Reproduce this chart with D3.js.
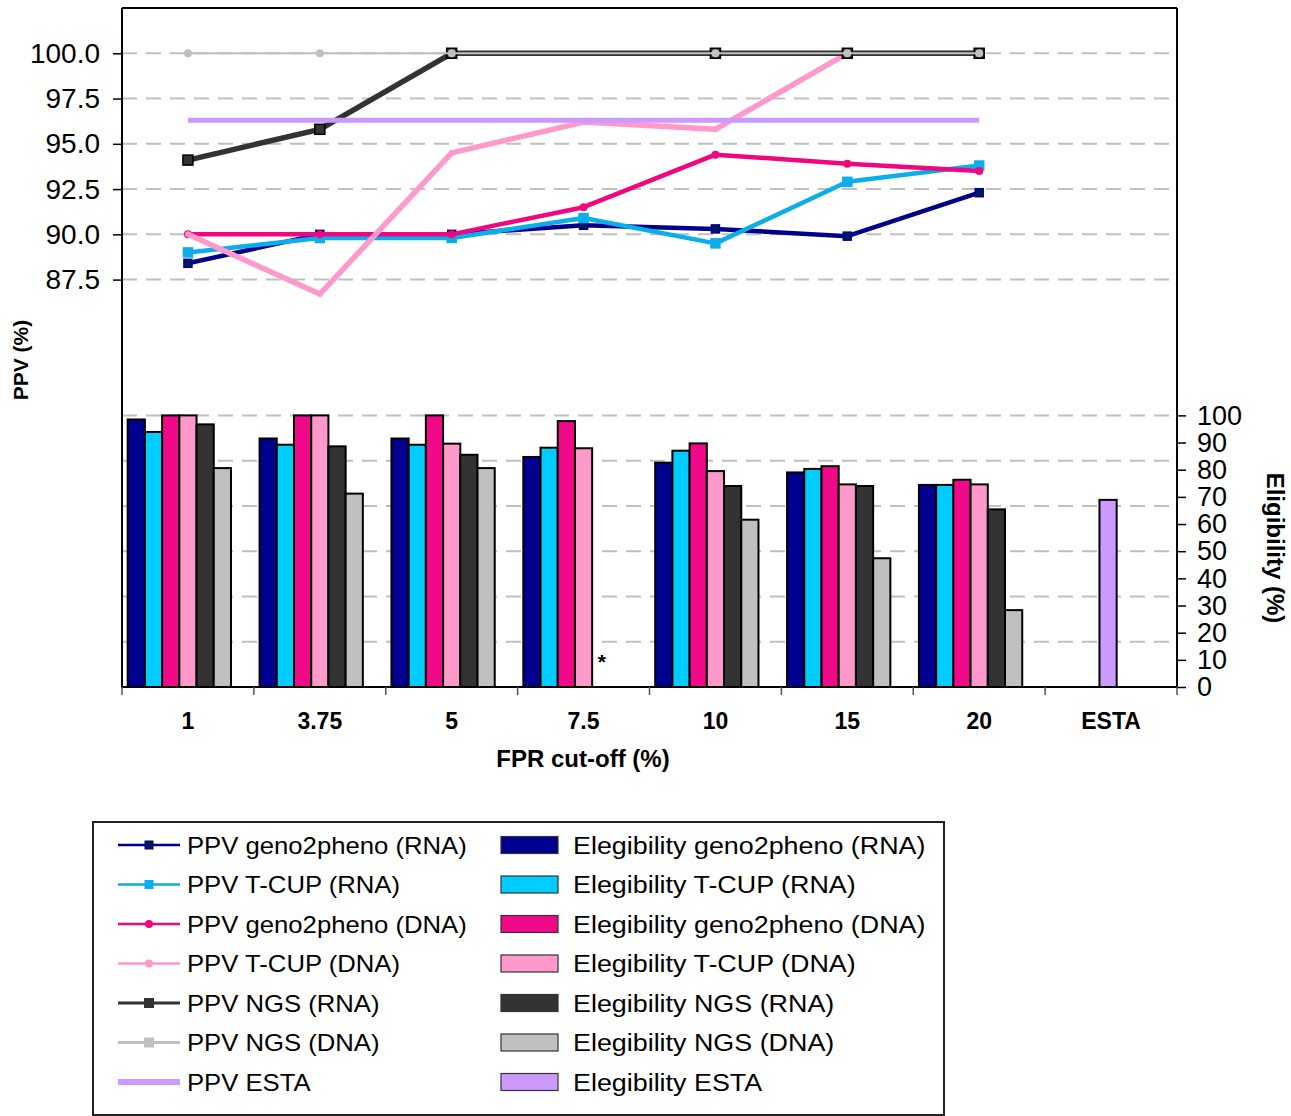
<!DOCTYPE html>
<html>
<head>
<meta charset="utf-8">
<script src="https://cdn.jsdelivr.net/npm/d3@7"></script>
<style>
  html, body { margin: 0; padding: 0; background: #fff; }
  svg { display: block; font-family: "Liberation Sans", Arial, sans-serif; }
</style>
</head>
<body>
<svg id="chart" width="1291" height="1116"></svg>
<script>
// ---------------- data ----------------
const categories = ["1", "3.75", "5", "7.5", "10", "15", "20", "ESTA"];
const fprCategories = ["1", "3.75", "5", "7.5", "10", "15", "20"];

const leftTicks = [87.5, 90.0, 92.5, 95.0, 97.5, 100.0];
const gridValues = [67.5, 70, 72.5, 75, 77.5, 80, 87.5, 90, 92.5, 95, 97.5, 100];
const rightTicks = [0, 10, 20, 30, 40, 50, 60, 70, 80, 90, 100];

// PPV (%) lines, one value per FPR cut-off
const ppvG2pRNA  = [88.4, 90.0, 90.0, 90.5, 90.3, 89.9, 92.3];
const ppvTcupRNA = [89.0, 89.8, 89.8, 90.9, 89.5, 92.9, 93.8];
const ppvG2pDNA  = [90.0, 90.0, 90.0, 91.5, 94.4, 93.9, 93.5];
const ppvTcupDNA = [90.0, 86.7, 94.5, 96.2, 95.8, 100.0, 100.0];
const ppvNgsRNA  = [94.1, 95.8, 100.0, null, 100.0, 100.0, 100.0];
const ppvNgsDNA  = [100.0, 100.0, 100.0, null, 100.0, 100.0, 100.0];
const ppvEsta    = [96.3, 96.3, 96.3, 96.3, 96.3, 96.3, 96.3];

// Eligibility (%) bars, one value per FPR cut-off
const eligG2pRNA  = [98.5, 91.5, 91.5, 84.7, 82.6, 79.0, 74.4];
const eligTcupRNA = [93.9, 89.2, 89.2, 88.1, 87.0, 80.3, 74.4];
const eligG2pDNA  = [100, 100, 100, 97.9, 89.7, 81.3, 76.3];
const eligTcupDNA = [100, 100, 89.6, 87.9, 79.5, 74.6, 74.6];
const eligNgsRNA  = [96.7, 88.6, 85.5, null, 74.0, 74.0, 65.4];
const eligNgsDNA  = [80.6, 71.2, 80.6, null, 61.6, 47.4, 28.3];
const eligEsta    = 68.9;

const lineSeries = [
  { name: "PPV geno2pheno (RNA)", values: ppvG2pRNA,  color: "#00008C", width: 4.5, marker: "square", msize: 8,  mfill: "#001a5c", mstroke: "#00008C" },
  { name: "PPV T-CUP (RNA)",      values: ppvTcupRNA, color: "#0AAEEA", width: 4.5, marker: "square", msize: 9,  mfill: "#0AAEEA", mstroke: "#0AAEEA" },
  { name: "PPV geno2pheno (DNA)", values: ppvG2pDNA,  color: "#F0077F", width: 4.5, marker: "circle", msize: 4,  mfill: "#F0077F", mstroke: "#F0077F" },
  { name: "PPV T-CUP (DNA)",      values: ppvTcupDNA, color: "#FF99CC", width: 5.5, marker: "circle", msize: 3,  mfill: "#FF99CC", mstroke: "#FF99CC" },
  { name: "PPV NGS (RNA)",        values: ppvNgsRNA,  color: "#333333", width: 5.5, marker: "square", msize: 10, mfill: "#333333", mstroke: "#000000" },
  { name: "PPV NGS (DNA)",        values: ppvNgsDNA,  color: "#C0C0C0", width: 2,   marker: "circle", msize: 4,  mfill: "#C0C0C0", mstroke: "#C0C0C0" },
  { name: "PPV ESTA",             values: ppvEsta,    color: "#CC99FF", width: 5,   marker: null }
];
const legendLineMarkers = ["square", "square", "circle", "circle", "square", "square", null];

const barSeries = [
  { name: "Elegibility geno2pheno (RNA)", values: eligG2pRNA,  color: "#000090" },
  { name: "Elegibility T-CUP (RNA)",      values: eligTcupRNA, color: "#00CCFF" },
  { name: "Elegibility geno2pheno (DNA)", values: eligG2pDNA,  color: "#F00A8A" },
  { name: "Elegibility T-CUP (DNA)",      values: eligTcupDNA, color: "#FF99CC" },
  { name: "Elegibility NGS (RNA)",        values: eligNgsRNA,  color: "#333333" },
  { name: "Elegibility NGS (DNA)",        values: eligNgsDNA,  color: "#C0C0C0" },
  { name: "Elegibility ESTA",             values: [eligEsta],  color: "#CC99FF" }
];

// ---------------- layout ----------------
const svg = d3.select("#chart");
const plot = { left: 122, right: 1177, top: 8, bottom: 687 };

const x = d3.scaleBand().domain(categories).range([plot.left, plot.right]).paddingInner(0).paddingOuter(0);
const xSlot = d3.scaleBand().domain(d3.range(barSeries.length)).range([0, x.bandwidth()]).paddingInner(0).paddingOuter(0.33);
const yL = d3.scaleLinear().domain([65, 102.5]).range([plot.bottom, plot.top]);
const yR = d3.scaleLinear().domain([0, 250]).range([plot.bottom, plot.top]);

// gridlines
svg.append("g").selectAll("line").data(gridValues).join("line")
  .attr("x1", plot.left).attr("x2", plot.right)
  .attr("y1", d => yL(d)).attr("y2", d => yL(d))
  .attr("stroke", "#C0C0C0").attr("stroke-width", 2).attr("stroke-dasharray", "15,9");

// bars
const barG = svg.append("g");
barSeries.slice(0, 6).forEach((s, si) => {
  barG.append("g").selectAll("rect")
    .data(s.values.map((v, i) => ({ cat: fprCategories[i], v })).filter(d => d.v != null))
    .join("rect")
    .attr("x", d => x(d.cat) + xSlot(si))
    .attr("width", xSlot.bandwidth())
    .attr("y", d => yR(d.v))
    .attr("height", d => yR(0) - yR(d.v))
    .attr("fill", s.color).attr("stroke", "#000").attr("stroke-width", 2);
});
// ESTA bar, alone in its category
const esta = barSeries[6];
barG.append("g").selectAll("rect").data(esta.values).join("rect")
  .attr("x", x("ESTA") + x.bandwidth() / 2 - xSlot.bandwidth() / 2 - 3)
  .attr("width", xSlot.bandwidth())
  .attr("y", d => yR(d))
  .attr("height", d => yR(0) - yR(d))
  .attr("fill", esta.color).attr("stroke", "#000").attr("stroke-width", 2);

// asterisk for missing NGS at 7.5
svg.append("text")
  .attr("x", x("7.5") + xSlot(4) + xSlot.bandwidth() / 2 + 1)
  .attr("y", yR(0) - 18)
  .attr("text-anchor", "middle").attr("font-size", 21).attr("font-weight", "bold").text("*");

// lines
const lineGen = d3.line()
  .x(d => x(d.cat) + x.bandwidth() / 2)
  .y(d => yL(d.v));
const lineG = svg.append("g");
lineSeries.forEach(s => {
  const pts = s.values.map((v, i) => ({ cat: fprCategories[i], v })).filter(d => d.v != null);
  lineG.append("path").datum(pts)
    .attr("d", lineGen)
    .attr("fill", "none").attr("stroke", s.color).attr("stroke-width", s.width)
    .attr("stroke-linejoin", "round");
  if (s.marker === "square") {
    lineG.append("g").selectAll("rect").data(pts).join("rect")
      .attr("x", d => x(d.cat) + x.bandwidth() / 2 - s.msize / 2)
      .attr("y", d => yL(d.v) - s.msize / 2)
      .attr("width", s.msize).attr("height", s.msize)
      .attr("fill", s.mfill).attr("stroke", s.mstroke).attr("stroke-width", 1.5);
  } else if (s.marker === "circle") {
    lineG.append("g").selectAll("circle").data(pts).join("circle")
      .attr("cx", d => x(d.cat) + x.bandwidth() / 2)
      .attr("cy", d => yL(d.v))
      .attr("r", s.msize)
      .attr("fill", s.mfill).attr("stroke", "none");
  }
});

// plot frame
const frame = svg.append("g").attr("stroke", "#000").attr("stroke-width", 2);
frame.append("line").attr("x1", plot.left).attr("x2", plot.right).attr("y1", plot.top).attr("y2", plot.top);
frame.append("line").attr("x1", plot.left).attr("x2", plot.left).attr("y1", plot.top).attr("y2", plot.bottom);
frame.append("line").attr("x1", plot.right).attr("x2", plot.right).attr("y1", plot.top).attr("y2", plot.bottom);
frame.append("line").attr("x1", plot.left - 1).attr("x2", plot.right + 1).attr("y1", plot.bottom).attr("y2", plot.bottom);

// left axis (PPV)
const leftAxis = d3.axisLeft(yL).tickValues(leftTicks).tickFormat(d3.format(".1f")).tickSize(9).tickPadding(13);
const gL = svg.append("g").attr("transform", `translate(${plot.left},0)`).call(leftAxis);
gL.select(".domain").remove();
gL.selectAll(".tick line").attr("stroke", "#000").attr("stroke-width", 1.5);
gL.selectAll(".tick text").attr("font-size", 28).attr("fill", "#000").attr("font-family", "Liberation Sans, Arial, sans-serif");

// right axis (Eligibility)
const rightAxis = d3.axisRight(yR).tickValues(rightTicks).tickFormat(d3.format("d")).tickSize(9).tickPadding(11);
const gR = svg.append("g").attr("transform", `translate(${plot.right},0)`).call(rightAxis);
gR.select(".domain").remove();
gR.selectAll(".tick line").attr("stroke", "#000").attr("stroke-width", 1.5);
gR.selectAll(".tick text").attr("font-size", 27).attr("fill", "#000").attr("font-family", "Liberation Sans, Arial, sans-serif");

// bottom axis
const bottomAxis = d3.axisBottom(x).tickSize(0).tickPadding(26);
const gB = svg.append("g").attr("transform", `translate(0,${plot.bottom})`).call(bottomAxis);
gB.select(".domain").remove();
gB.selectAll(".tick text").attr("font-size", 23).attr("font-weight", "bold").attr("fill", "#000")
  .attr("font-family", "Liberation Sans, Arial, sans-serif");
// category boundary ticks
svg.append("g").selectAll("line").data(categories.concat(["_end"])).join("line")
  .attr("x1", (d, i) => plot.left + i * x.step()).attr("x2", (d, i) => plot.left + i * x.step())
  .attr("y1", plot.bottom).attr("y2", plot.bottom + 8)
  .attr("stroke", "#555").attr("stroke-width", 1.5);

// axis titles
svg.append("text").attr("x", 583).attr("y", 767)
  .attr("text-anchor", "middle").attr("font-size", 24).attr("font-weight", "bold").text("FPR cut-off (%)");
svg.append("text").attr("transform", "translate(28,360) rotate(-90)")
  .attr("text-anchor", "middle").attr("font-size", 21).attr("font-weight", "bold").text("PPV (%)");
svg.append("text").attr("transform", "translate(1267,548) rotate(90)")
  .attr("text-anchor", "middle").attr("font-size", 24).attr("font-weight", "bold").text("Eligibility (%)");

// legend
const lg = svg.append("g");
lg.append("rect").attr("x", 93).attr("y", 822).attr("width", 851).attr("height", 293)
  .attr("fill", "#fff").attr("stroke", "#222").attr("stroke-width", 2);
const rowY = i => 845 + i * 39.5;
lineSeries.forEach((s, i) => {
  const cy = rowY(i);
  const lw = s.marker === null ? 6 : (i >= 4 ? 3 : 2.5);
  lg.append("line").attr("x1", 118).attr("x2", 180).attr("y1", cy).attr("y2", cy)
    .attr("stroke", s.color).attr("stroke-width", lw);
  const m = legendLineMarkers[i];
  if (m === "square") {
    const sz = i >= 4 ? 9 : 8;
    lg.append("rect").attr("x", 149 - sz / 2).attr("y", cy - sz / 2).attr("width", sz).attr("height", sz)
      .attr("fill", s.mfill).attr("stroke", i === 4 ? "#333" : s.mstroke).attr("stroke-width", 1);
  } else if (m === "circle") {
    lg.append("circle").attr("cx", 149).attr("cy", cy).attr("r", 4).attr("fill", s.color);
  }
  lg.append("text").attr("transform", `translate(187,${cy}) scale(1.07,1)`).attr("dy", "0.36em")
    .attr("font-size", 24).attr("fill", "#000").text(s.name);
});
barSeries.forEach((s, i) => {
  const cy = rowY(i);
  lg.append("rect").attr("x", 501).attr("y", cy - 8.5).attr("width", 57).attr("height", 17)
    .attr("fill", s.color).attr("stroke", "#333").attr("stroke-width", 1.2);
  lg.append("text").attr("transform", `translate(573,${cy}) scale(1.12,1)`).attr("dy", "0.36em")
    .attr("font-size", 24).attr("fill", "#000").text(s.name);
});
</script>
</body>
</html>
